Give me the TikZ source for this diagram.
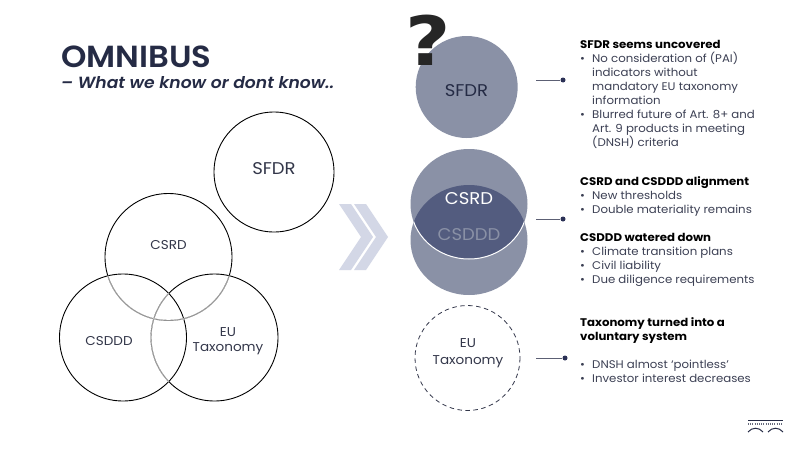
\documentclass[tikz,border=0pt]{standalone}
\usepackage{fontspec}
\setmainfont{Poppins}[FakeStretch=1.06]
\newfontfamily\semifont{Poppins SemiBold}[FakeStretch=1.06]
\newfontfamily\qfont{DejaVu Sans}
\definecolor{navy}{HTML}{252B45}
\definecolor{bodyc}{HTML}{3C4054}
\definecolor{labelc}{HTML}{33374A}
\definecolor{discfill}{HTML}{8A91A6}
\definecolor{lensfill}{HTML}{535C7F}
\definecolor{chev}{HTML}{D3D7E6}
\definecolor{dotc}{HTML}{2B3156}
\newcommand{\bl}[1]{\makebox[12pt][l]{•}#1}
\newcommand{\cn}[1]{\hspace*{12pt}#1}
\tikzset{
  x=1pt,y=-1pt,
  ring/.style={draw=black,line width=0.9pt},
  softring/.style={draw=gray!85,line width=0.9pt},
  disc/.style={fill=discfill},
  vlabel/.style={font=\fontsize{12.8}{15}\selectfont,text=labelc,align=center,inner sep=0pt},
  blabel/.style={font=\fontsize{17}{20}\selectfont,inner sep=0pt},
  info/.style={font=\fontsize{11.1}{14}\selectfont,text=bodyc,align=left,anchor=north west,inner sep=0pt},
  wire/.style={draw=navy!75,line width=0.7pt},
  dot/.style={circle,fill=dotc,inner sep=0pt,minimum size=5pt},
}
\begin{document}
\begin{tikzpicture}
\useasboundingbox[fill=white] (0,0) rectangle (800,450);
% title
\node[anchor=west,inner sep=0pt,text=navy,font=\semifont\fontsize{30.5}{32}\selectfont] (title) at (61,57) {OMNIBUS};
\node[anchor=west,inner sep=0pt,text=navy,font=\semifont\fontsize{16.2}{20}\selectfont\itshape] (sub) at (61,83) {– What we know or dont know..};
% left venn
\draw[ring] (274,172) circle (60);
\draw[ring] (168.5,257) circle (63.5);
\draw[ring] (123,337.5) circle (63.5);
\draw[ring] (214.5,337.5) circle (63.5);
\begin{scope}
  \clip (123,337.5) circle (63.5);
  \draw[white,line width=1.2pt] (168.5,257) circle (63.5);
  \draw[softring] (168.5,257) circle (63.5);
  \draw[white,line width=1.2pt] (214.5,337.5) circle (63.5);
  \draw[softring] (214.5,337.5) circle (63.5);
\end{scope}
\begin{scope}
  \clip (214.5,337.5) circle (63.5);
  \draw[white,line width=1.2pt] (168.5,257) circle (63.5);
  \draw[softring] (168.5,257) circle (63.5);
\end{scope}
\node[blabel,text=labelc] (lsfdr) at (274,169) {SFDR};
\node[vlabel] (lcsrd) at (168.5,245) {CSRD};
\node[vlabel] (lcsddd) at (109,341) {CSDDD};
\node[vlabel] (leu) at (228,341) {EU\\Taxonomy};
% chevrons
\fill[chev] (339,204) -- (351,204) -- (373,237) -- (351,270) -- (339,270) -- (361,237) -- cycle;
\fill[chev] (354,204) -- (366,204) -- (388,237) -- (366,270) -- (354,270) -- (376,237) -- cycle;
% right discs
\fill[disc] (466.7,87) circle (51);
\fill[disc] (469,240) ellipse [x radius=58.5,y radius=55];
\fill[disc] (469,204) ellipse [x radius=58.5,y radius=55];
\begin{scope}
  \clip (469,240) ellipse [x radius=58.5,y radius=55];
  \fill[lensfill] (469,204) ellipse [x radius=58.5,y radius=55];
  \draw[white,line width=1pt] (469,204) ellipse [x radius=58.5,y radius=55];
\end{scope}
\draw[dashed,dash pattern=on 4.5pt off 3.5pt,draw=labelc,line width=0.8pt] (467.5,358) circle (52.5);
\node[inner sep=0pt,text=black!85,xscale=1.15,font=\qfont\bfseries\fontsize{68}{68}\selectfont] (qm) at (428.5,40) {?};
\node[blabel,text=navy] (rsfdr) at (466.5,91) {SFDR};
\node[blabel,text=white] (rcsrd) at (469,199) {CSRD};
\node[blabel,text=discfill] (rcsddd) at (469,235) {CSDDD};
\node[vlabel,font=\fontsize{12.8}{16.5}\selectfont] (reu) at (468,353) {EU\\Taxonomy};
% connectors
\coordinate (w1) at (536,80);
\coordinate (w2) at (536,219);
\coordinate (w3) at (536,358);
\node[dot] (d1) at (563,80) {};
\node[dot] (d2) at (563,219) {};
\node[dot] (d3) at (565,358) {};
\draw[wire] (w1) -- (d1);
\draw[wire] (w2) -- (d2);
\draw[wire] (w3) -- (d3);
% texts
\node[info] (t1) at (580,40.5) {\textcolor{black}{\bfseries SFDR seems uncovered}\\
\bl{No consideration of (PAI)}\\\cn{indicators without}\\\cn{mandatory EU taxonomy}\\\cn{information}\\
\bl{Blurred future of Art. 8+ and}\\\cn{Art. 9 products in meeting}\\\cn{(DNSH) criteria}};
\node[info] (t2) at (580,176) {\textcolor{black}{\bfseries CSRD and CSDDD alignment}\\
\bl{New thresholds}\\\bl{Double materiality remains}\\[14pt]
\textcolor{black}{\bfseries CSDDD watered down}\\
\bl{Climate transition plans}\\\bl{Civil liability}\\\bl{Due diligence requirements}};
\node[info] (t3) at (580,317.5) {\textcolor{black}{\bfseries Taxonomy turned into a}\\\textcolor{black}{\bfseries voluntary system}\\[14pt]
\bl{DNSH almost ‘pointless’}\\\bl{Investor interest decreases}};
% logo
\draw[line width=0.9pt,draw=navy] (748,420) -- (783,420);
\draw[line width=1.5pt,draw=navy!70,dash pattern=on 1pt off 1.2pt] (748,424) -- (783,424);
\draw[line width=1pt,draw=navy] (748,432) .. controls (752,427) and (759,427) .. (763,432);
\draw[line width=1pt,draw=navy] (768,432) .. controls (772,427) and (779,427) .. (783,432);
\end{tikzpicture}
\end{document}
